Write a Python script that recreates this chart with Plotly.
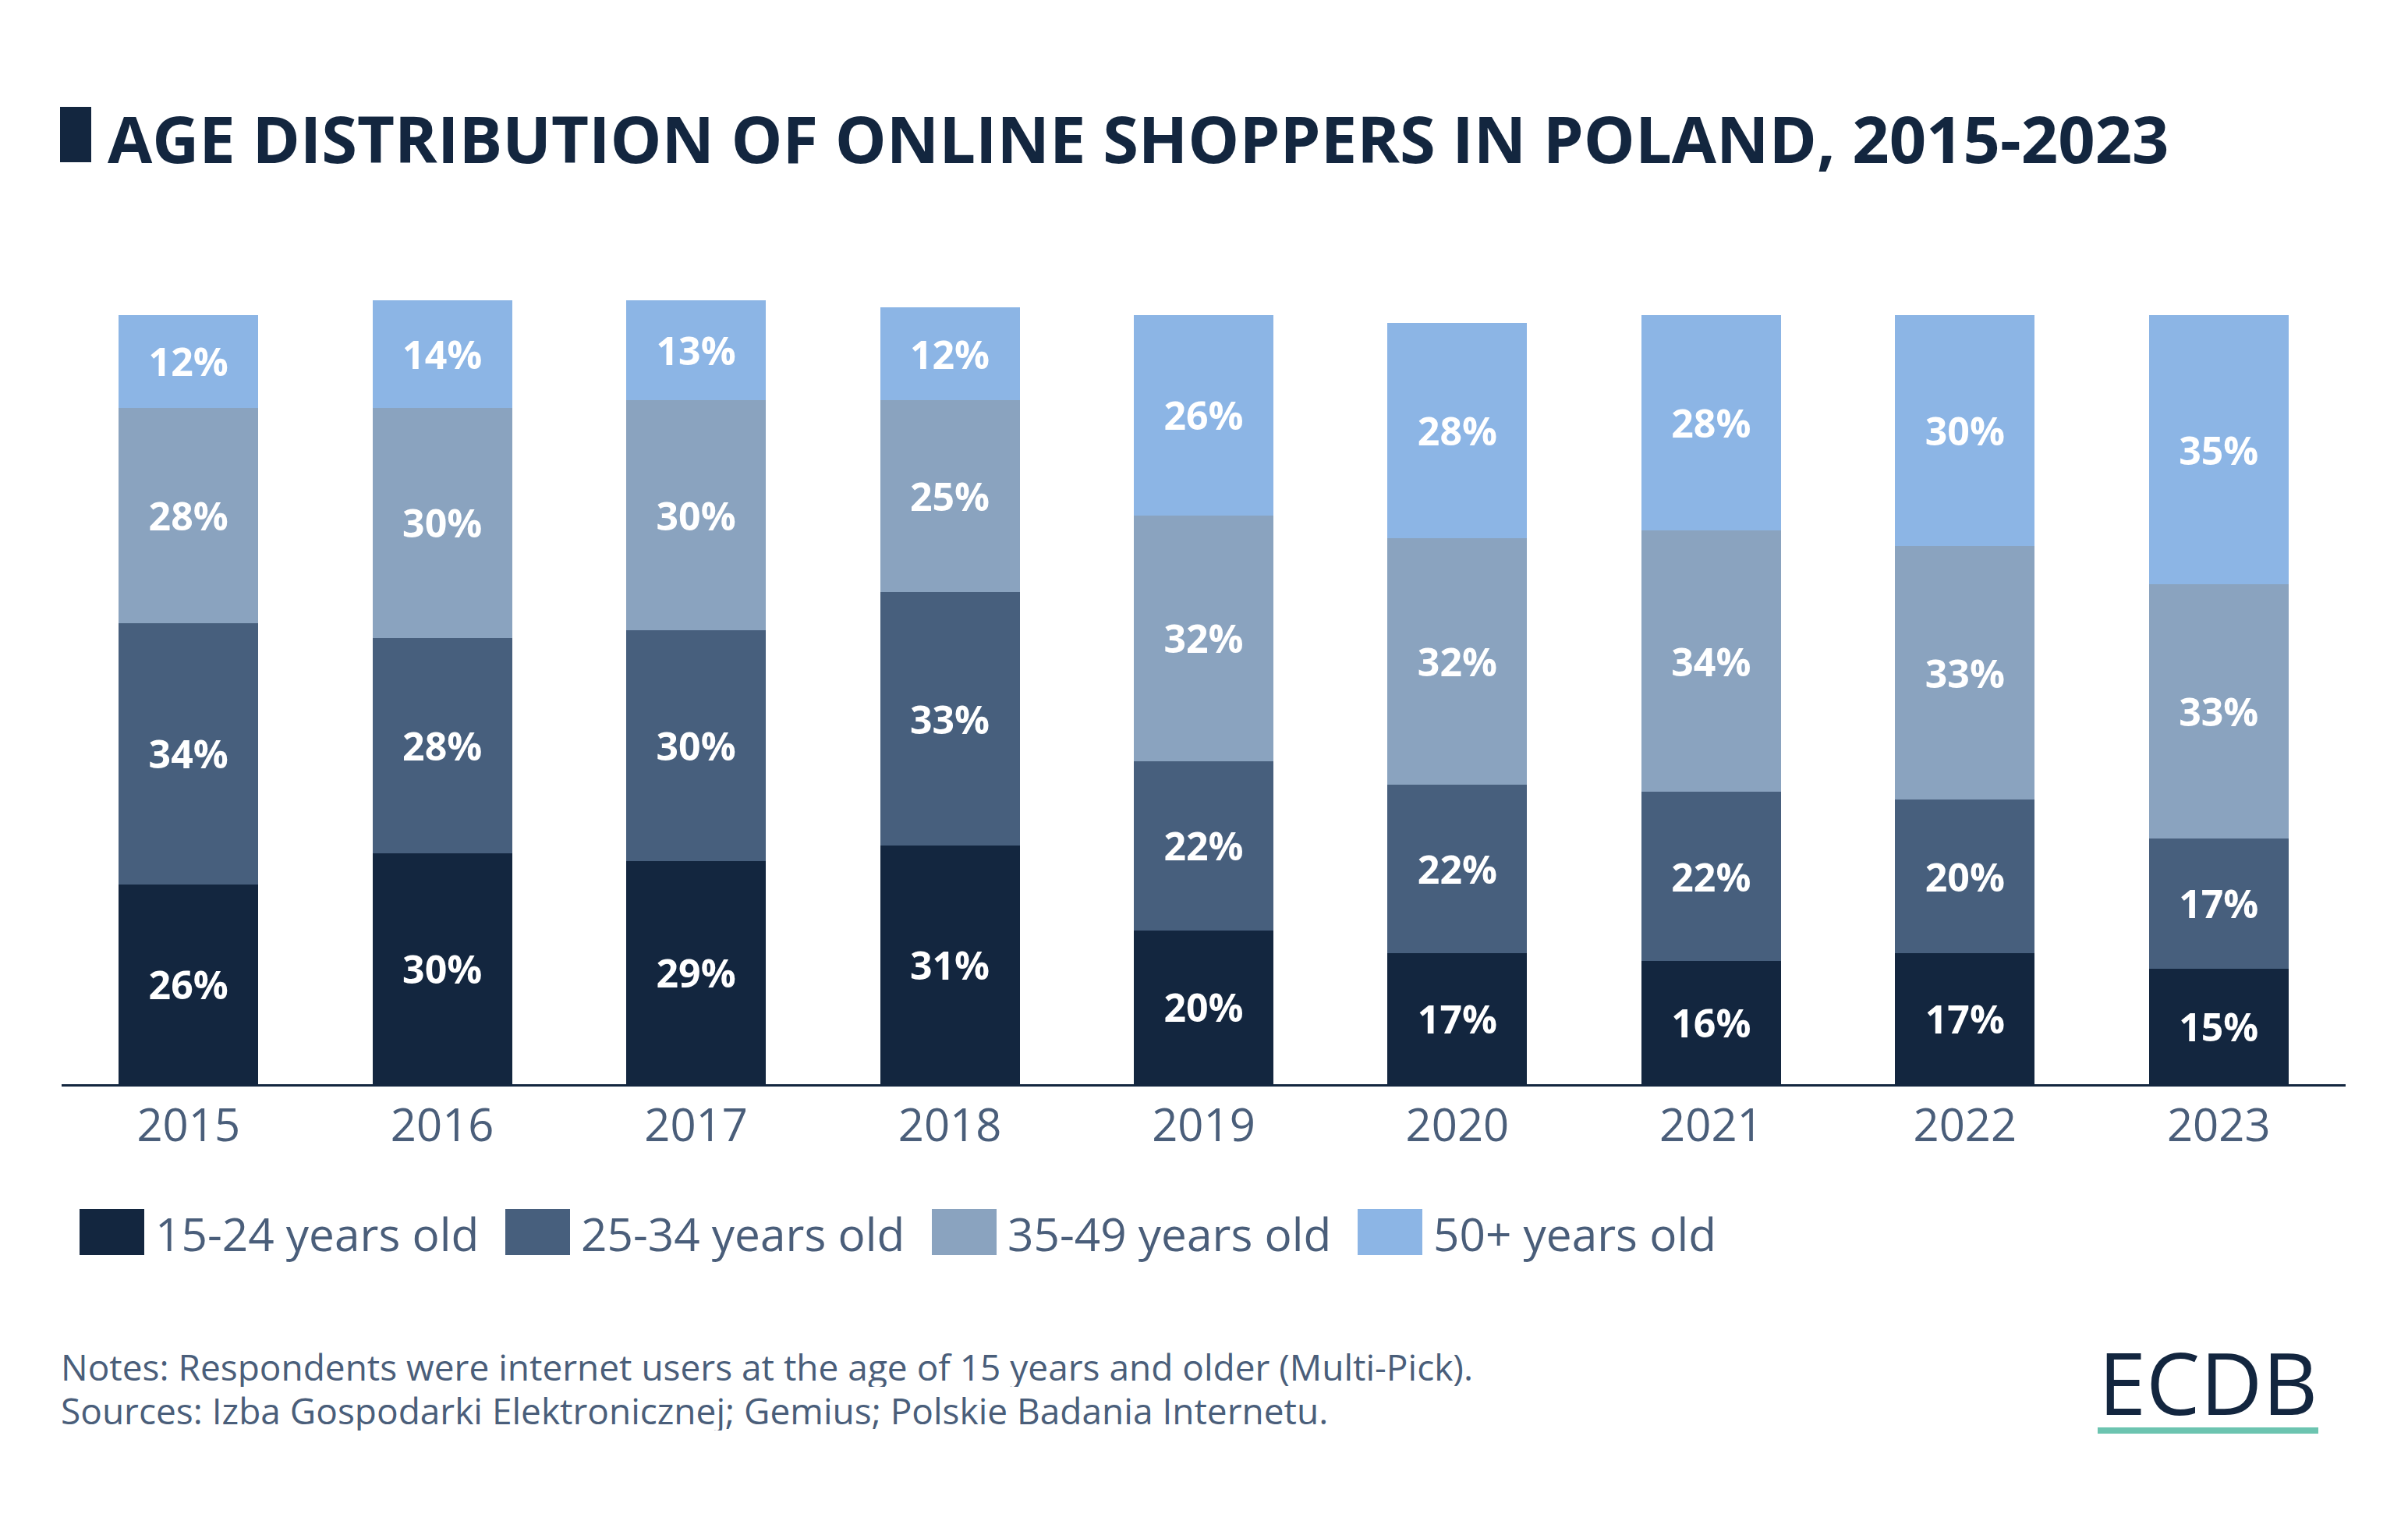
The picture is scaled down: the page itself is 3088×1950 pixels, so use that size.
import plotly.graph_objects as go

years = ["2015", "2016", "2017", "2018", "2019", "2020", "2021", "2022", "2023"]
age_15_24 = [26, 30, 29, 31, 20, 17, 16, 17, 15]
age_25_34 = [34, 28, 30, 33, 22, 22, 22, 20, 17]
age_35_49 = [28, 30, 30, 25, 32, 32, 34, 33, 33]
age_50_plus = [12, 14, 13, 12, 26, 28, 28, 30, 35]

series_names = ["15-24 years old", "25-34 years old", "35-49 years old", "50+ years old"]
series_values = [age_15_24, age_25_34, age_35_49, age_50_plus]
series_colors = ["#13263f", "#475f7d", "#8aa3bf", "#8cb5e5"]

W, H = 3088, 1950
L, R, T, B = 79, 80, 355, 560
PW = W - L - R
PH = H - T - B
FONT = "Open Sans"
TEXT_COL = "#4a5e7a"
DARK = "#13263f"


def px_x(x):
    return (x - L) / PW


def px_y(y):
    return (H - B - y) / PH


fig = go.Figure()
for name, vals, col in zip(series_names, series_values, series_colors):
    fig.add_trace(go.Bar(
        x=years, y=vals, name=name,
        marker=dict(color=col, line=dict(width=0)),
        texttemplate="<b>%{y}%</b>",
        textposition="inside",
        insidetextanchor="middle",
        textangle=0,
        constraintext="none",
        textfont=dict(family=FONT, size=50, color="white"),
        showlegend=False,
        hoverinfo="skip",
    ))

shapes = []
annotations = []

# title marker
shapes.append(dict(type="rect", xref="paper", yref="paper",
                   x0=px_x(77), x1=px_x(117), y0=px_y(208), y1=px_y(137),
                   fillcolor=DARK, line=dict(width=0)))
annotations.append(dict(xref="paper", yref="paper", x=px_x(136), y=px_y(176),
                        xanchor="left", yanchor="middle", showarrow=False,
                        text="<b>AGE DISTRIBUTION OF ONLINE SHOPPERS IN POLAND, 2015-2023</b>",
                        font=dict(family=FONT, size=83, color=DARK)))

# custom legend
leg_sq = [102, 648, 1195, 1741]
for x0, name, col in zip(leg_sq, series_names, series_colors):
    shapes.append(dict(type="rect", xref="paper", yref="paper",
                       x0=px_x(x0), x1=px_x(x0 + 83), y0=px_y(1609), y1=px_y(1550),
                       fillcolor=col, line=dict(width=0)))
    annotations.append(dict(xref="paper", yref="paper", x=px_x(x0 + 95), y=px_y(1581),
                            xanchor="left", yanchor="middle", showarrow=False,
                            text=name, font=dict(family=FONT, size=58.5, color=TEXT_COL)))

# footer notes
annotations.append(dict(xref="paper", yref="paper", x=px_x(76), y=px_y(1752),
                        xanchor="left", yanchor="middle", showarrow=False, height=52,
                        text="Notes: Respondents were internet users at the age of 15 years and older (Multi-Pick).",
                        font=dict(family=FONT, size=46, color=TEXT_COL)))
annotations.append(dict(xref="paper", yref="paper", x=px_x(76), y=px_y(1808),
                        xanchor="left", yanchor="middle", showarrow=False, height=52,
                        text="Sources: Izba Gospodarki Elektronicznej; Gemius; Polskie Badania Internetu.",
                        font=dict(family=FONT, size=46, color=TEXT_COL)))

# logo
annotations.append(dict(xref="paper", yref="paper", x=px_x(2831), y=px_y(1771),
                        xanchor="center", yanchor="middle", showarrow=False,
                        text="ECDB", font=dict(family=FONT, size=110, color=DARK)))
shapes.append(dict(type="rect", xref="paper", yref="paper",
                   x0=px_x(2690), x1=px_x(2973), y0=px_y(1838), y1=px_y(1830),
                   fillcolor="#6cc4b0", line=dict(width=0)))

fig.update_layout(
    width=W, height=H,
    margin=dict(l=L, r=R, t=T, b=B, pad=0),
    barmode="stack",
    bargap=0.45,
    plot_bgcolor="white",
    paper_bgcolor="white",
    font=dict(family=FONT, color=TEXT_COL),
    shapes=shapes,
    annotations=annotations,
    xaxis=dict(showline=True, linecolor=DARK, linewidth=3, ticks="",
               tickfont=dict(family=FONT, size=58, color=TEXT_COL),
               showgrid=False, zeroline=False, fixedrange=True),
    yaxis=dict(range=[0, 105], showticklabels=False, showgrid=False,
               zeroline=False, showline=False, fixedrange=True),
)

fig.write_html("out.html",
               config={"displayModeBar": False, "staticPlot": True},
               post_script="document.body.style.margin='0';document.body.style.overflow='hidden';")
